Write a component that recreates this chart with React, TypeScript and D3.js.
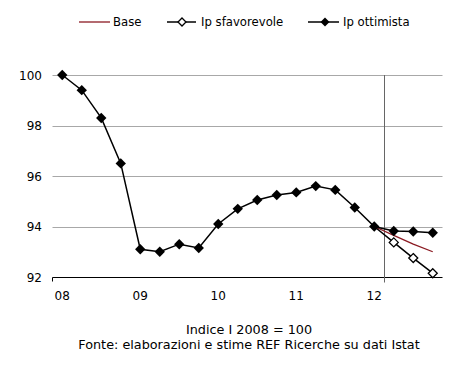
import * as d3 from 'd3'
import { useEffect, useRef } from 'react'

// trimestri 2008Q1 - 2012Q4
const quarters = [
  '2008Q1', '2008Q2', '2008Q3', '2008Q4',
  '2009Q1', '2009Q2', '2009Q3', '2009Q4',
  '2010Q1', '2010Q2', '2010Q3', '2010Q4',
  '2011Q1', '2011Q2', '2011Q3', '2011Q4',
  '2012Q1', '2012Q2', '2012Q3', '2012Q4',
]
const yearLabels = ['08', '09', '10', '11', '12']
const yTicks = [92, 94, 96, 98, 100]

const ottimista = [
  100, 99.4, 98.3, 96.5, 93.1, 93.0, 93.3, 93.15, 94.1, 94.7,
  95.05, 95.25, 95.35, 95.6, 95.45, 94.75, 94.0, 93.82, 93.8, 93.75,
]
const sfavorevole = [94.0, 93.37, 92.75, 92.15]
const base = [94.0, 93.65, 93.3, 93.0]
const forecastStart = 16

export default function App() {
  const svgRef = useRef<SVGSVGElement>(null)

  useEffect(() => {
    makeChart(svgRef)
  }, [])

  function makeChart(svgRef: React.RefObject<SVGSVGElement>) {
    const width = 463
    const height = 366
    const font = 'DejaVu Sans, Verdana, sans-serif'

    const svg = d3.select(svgRef.current).attr('width', width).attr('height', height)
    svg.selectAll('*').remove()

    const x = d3.scalePoint<string>().domain(quarters).range([52.5, 442.5]).padding(0.5)
    const y = d3.scaleLinear().domain([92, 100]).range([277, 75])
    const step = x.step()

    // griglia
    svg.append('g')
      .selectAll('line')
      .data(yTicks.filter(t => t > 92))
      .enter()
      .append('line')
      .attr('x1', 52.5)
      .attr('x2', 442.5)
      .attr('y1', d => Math.round(y(d)) + 0.5)
      .attr('y2', d => Math.round(y(d)) + 0.5)
      .attr('stroke', '#a8a8a8')

    // asse x
    const y0 = Math.round(y(92)) + 0.5
    svg.append('line')
      .attr('x1', 52.5).attr('x2', 442.5)
      .attr('y1', y0).attr('y2', y0)
      .attr('stroke', '#000')
    svg.append('line')
      .attr('x1', 52.5).attr('x2', 52.5)
      .attr('y1', y0).attr('y2', y0 + 4)
      .attr('stroke', '#000')

    // linea verticale inizio previsioni
    const xv = Math.round(x(quarters[forecastStart])! + step / 2) + 0.5
    svg.append('line')
      .attr('x1', xv).attr('x2', xv)
      .attr('y1', y(100)).attr('y2', y0 + 5)
      .attr('stroke', '#666')

    // etichette y
    svg.append('g')
      .selectAll('text')
      .data(yTicks)
      .enter()
      .append('text')
      .attr('x', 42)
      .attr('y', d => y(d) + 4.5)
      .attr('text-anchor', 'end')
      .attr('font-family', font)
      .attr('font-size', 12)
      .text(d => d)

    // etichette anni
    svg.append('g')
      .selectAll('text')
      .data(yearLabels)
      .enter()
      .append('text')
      .attr('x', (d, i) => x(quarters[i * 4])!)
      .attr('y', 300)
      .attr('text-anchor', 'middle')
      .attr('font-family', font)
      .attr('font-size', 12)
      .text(d => d)

    const line = d3.line<[number, number]>()
      .x(d => x(quarters[d[0]])!)
      .y(d => y(d[1]))

    const fut = (vals: number[]) => vals.map((v, i) => [forecastStart + i, v] as [number, number])
    const diamond = (r: number) => `M0,${-r}L${r},0L0,${r}L${-r},0Z`

    // sfavorevole
    svg.append('path')
      .attr('d', line(fut(sfavorevole)))
      .attr('fill', 'none')
      .attr('stroke', '#000')
      .attr('stroke-width', 1.5)
    svg.append('g')
      .selectAll('path')
      .data(fut(sfavorevole).slice(1))
      .enter()
      .append('path')
      .attr('transform', d => `translate(${x(quarters[d[0]])},${y(d[1])})`)
      .attr('d', diamond(4.5))
      .attr('fill', '#fff')
      .attr('stroke', '#000')
      .attr('stroke-width', 1.3)

    // base
    svg.append('path')
      .attr('d', line(fut(base)))
      .attr('fill', 'none')
      .attr('stroke', '#8b1a22')
      .attr('stroke-width', 1.3)

    // ottimista
    const ott = ottimista.map((v, i) => [i, v] as [number, number])
    svg.append('path')
      .attr('d', line(ott))
      .attr('fill', 'none')
      .attr('stroke', '#000')
      .attr('stroke-width', 1.5)
    svg.append('g')
      .selectAll('path')
      .data(ott)
      .enter()
      .append('path')
      .attr('transform', d => `translate(${x(quarters[d[0]])},${y(d[1])})`)
      .attr('d', diamond(5.2))
      .attr('fill', '#000')

    // legenda
    const legend = svg.append('g').attr('font-family', font).attr('font-size', 11.7)
    legend.append('line')
      .attr('x1', 79).attr('x2', 110).attr('y1', 22).attr('y2', 22)
      .attr('stroke', '#8b1a22').attr('stroke-width', 1.3)
    legend.append('text').attr('x', 113).attr('y', 26).text('Base')

    legend.append('line')
      .attr('x1', 167).attr('x2', 196).attr('y1', 22).attr('y2', 22)
      .attr('stroke', '#000').attr('stroke-width', 1.5)
    legend.append('path')
      .attr('transform', 'translate(182,22)')
      .attr('d', diamond(4))
      .attr('fill', '#fff').attr('stroke', '#000').attr('stroke-width', 1.3)
    legend.append('text').attr('x', 201).attr('y', 26).text('Ip sfavorevole')

    legend.append('line')
      .attr('x1', 308).attr('x2', 339).attr('y1', 22).attr('y2', 22)
      .attr('stroke', '#000').attr('stroke-width', 1.5)
    legend.append('path')
      .attr('transform', 'translate(325,22)')
      .attr('d', diamond(4.5))
      .attr('fill', '#000')
    legend.append('text').attr('x', 343).attr('y', 26).text('Ip ottimista')

    // note
    const note = svg.append('g')
      .attr('font-family', font)
      .attr('font-size', 12.8)
      .attr('text-anchor', 'middle')
    note.append('text').attr('x', 249).attr('y', 334).text('Indice I 2008 = 100')
    note.append('text').attr('x', 249).attr('y', 349)
      .text('Fonte: elaborazioni e stime REF Ricerche su dati Istat')
  }

  return (
    <svg ref={svgRef} style={{ position: 'absolute', left: 0, top: 0 }}></svg>
  )
}
